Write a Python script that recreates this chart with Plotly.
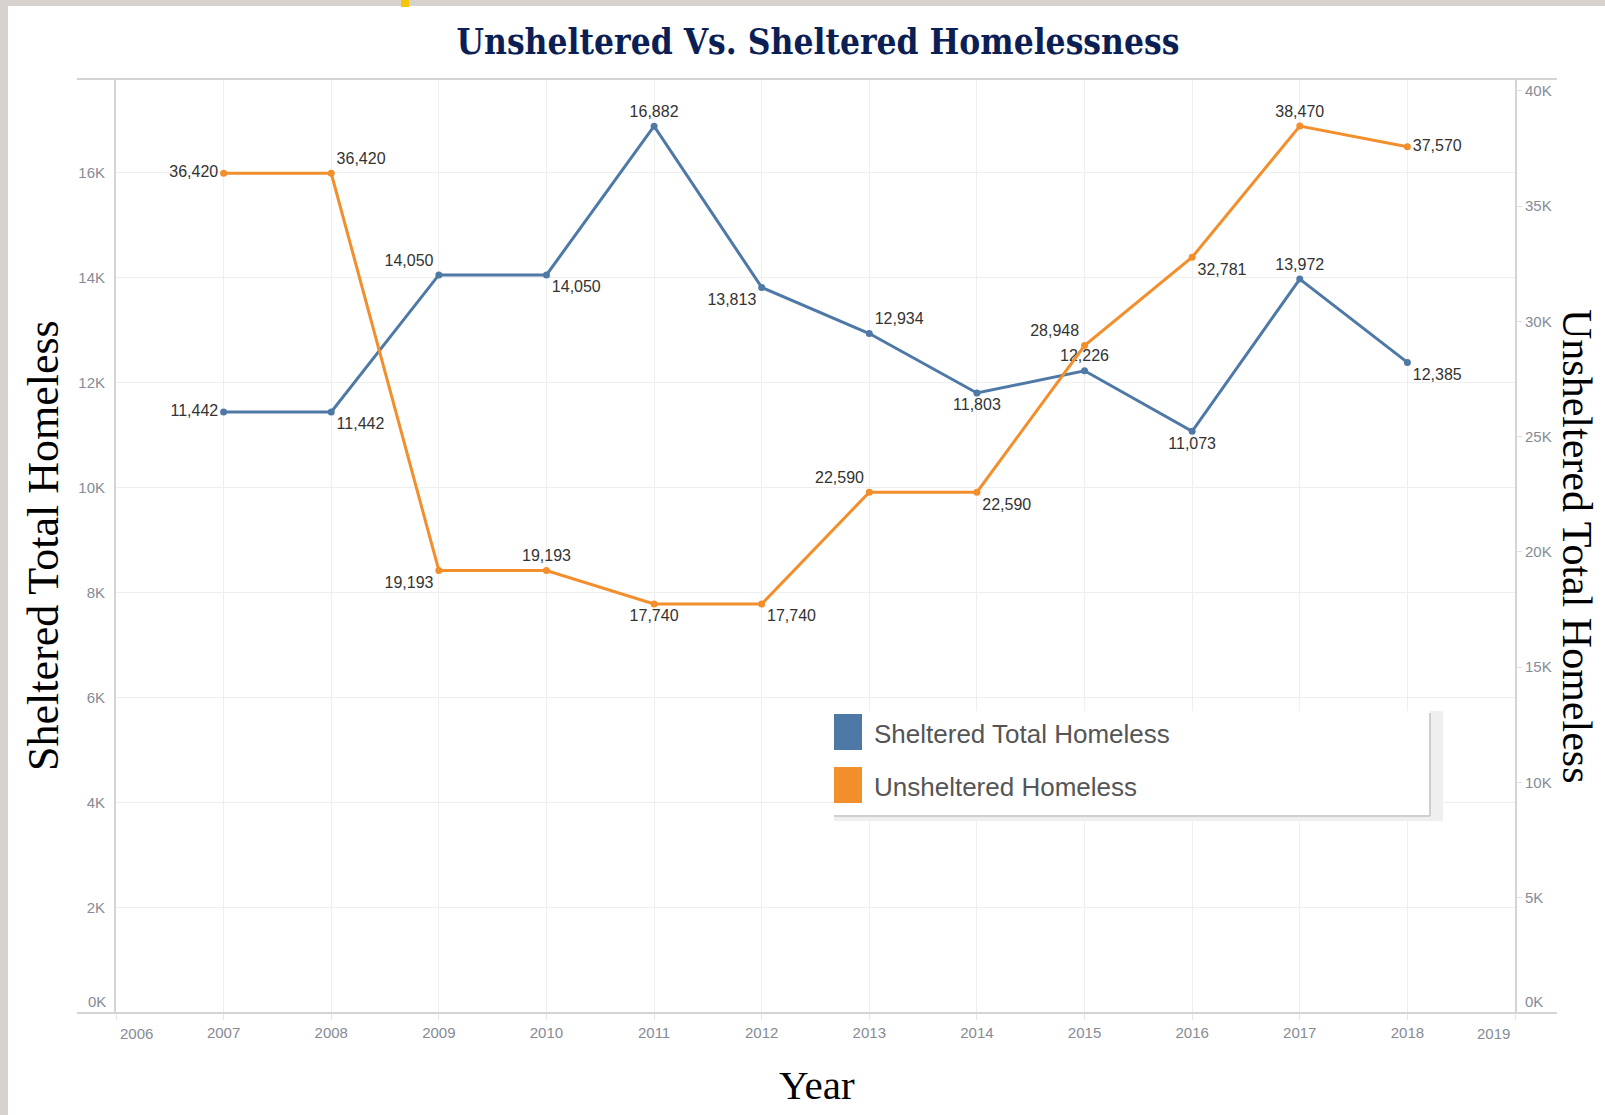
import plotly.graph_objects as go

# ---------------- data ----------------
years = [2007, 2008, 2009, 2010, 2011, 2012, 2013, 2014, 2015, 2016, 2017, 2018]
sheltered = [11442, 11442, 14050, 14050, 16882, 13813, 12934, 11803, 12226, 11073, 13972, 12385]
unsheltered = [36420, 36420, 19193, 19193, 17740, 17740, 22590, 22590, 28948, 32781, 38470, 37570]

sheltered_label_pos = ["middle left", "bottom right", "top left", "bottom right", "top center",
                       "bottom left", "top right", "bottom center", "top center", "bottom center",
                       "top center", "bottom right"]
unsheltered_label_pos = ["middle left", "top right", "bottom left", "top center", "bottom center",
                         "bottom right", "top left", "bottom right", "top left", "bottom right",
                         "top center", "middle right"]

x_ticks = list(range(2006, 2020))
left_ticks = [0, 2000, 4000, 6000, 8000, 10000, 12000, 14000, 16000]
left_tick_text = ["", "2K", "4K", "6K", "8K", "10K", "12K", "14K", "16K"]
right_ticks = [0, 5000, 10000, 15000, 20000, 25000, 30000, 35000, 40000]
right_tick_text = ["", "5K", "10K", "15K", "20K", "25K", "30K", "35K", "40K"]

title_text = "Unsheltered Vs. Sheltered Homelessness"
left_title = "Sheltered Total Homeless"
right_title = "Unsheltered Total Homeless"
x_title = "Year"
series_names = ["Sheltered Total Homeless", "Unsheltered Homeless"]

# ---------------- styling ----------------
W, H = 1605, 1115
ML, MR, MT, MB = 116, 90, 79, 102
PW, PH = W - ML - MR, H - MT - MB

BLUE = "#4e79a7"
ORANGE = "#f28e2b"
TICK_FONT = dict(family="Liberation Sans, Arial", size=15, color="#868b96")
LABEL_FONT = dict(family="Liberation Sans, Arial", size=16, color="#333333")
SERIF = "Liberation Serif, Times New Roman, serif"


def px(x):
    return (x - ML) / PW


def py(y):
    return 1 - (y - MT) / PH


def fmt(v):
    return f"{v:,}"


fig = go.Figure()

fig.add_trace(go.Scatter(
    x=years, y=sheltered, mode="lines+markers+text", name=series_names[0],
    line=dict(color=BLUE, width=3), marker=dict(color=BLUE, size=7),
    text=[fmt(v) for v in sheltered], textposition=sheltered_label_pos,
    textfont=LABEL_FONT, cliponaxis=False, yaxis="y", showlegend=False,
))
fig.add_trace(go.Scatter(
    x=years, y=unsheltered, mode="lines+markers+text", name=series_names[1],
    line=dict(color=ORANGE, width=3), marker=dict(color=ORANGE, size=7),
    text=[fmt(v) for v in unsheltered], textposition=unsheltered_label_pos,
    textfont=LABEL_FONT, cliponaxis=False, yaxis="y2", showlegend=False,
))

shapes = []
# page frame (gray strips + yellow mark)
FRAME = "#d8d2cf"
shapes.append(dict(type="rect", xref="paper", yref="paper", x0=px(0), x1=px(8), y0=py(0), y1=py(H),
                   fillcolor=FRAME, line_width=0, layer="above"))
shapes.append(dict(type="rect", xref="paper", yref="paper", x0=px(0), x1=px(W), y0=py(0), y1=py(6),
                   fillcolor=FRAME, line_width=0, layer="above"))
shapes.append(dict(type="rect", xref="paper", yref="paper", x0=px(401), x1=px(409), y0=py(0), y1=py(7),
                   fillcolor="#f7c600", line_width=0, layer="above"))
# top and bottom rules extending past the plot
AX = "#d4d4d4"
shapes.append(dict(type="line", xref="paper", yref="paper", x0=px(77), x1=px(1557), y0=1, y1=1,
                   line=dict(color=AX, width=2)))
shapes.append(dict(type="line", xref="paper", yref="paper", x0=px(77), x1=px(1557), y0=0, y1=0,
                   line=dict(color=AX, width=2)))

# legend box
LX0, LX1, LY0, LY1 = 834, 1430, 711, 816
shapes.append(dict(type="rect", xref="paper", yref="paper", x0=px(LX0), x1=px(LX1 + 13), y0=py(LY0),
                   y1=py(LY1 + 5), fillcolor="#efefef", line_width=0, layer="above"))
shapes.append(dict(type="rect", xref="paper", yref="paper", x0=px(LX0), x1=px(LX1), y0=py(LY0),
                   y1=py(LY1), fillcolor="#ffffff", line_width=0, layer="above"))
shapes.append(dict(type="line", xref="paper", yref="paper", x0=px(LX1), x1=px(LX1), y0=py(LY0 + 2),
                   y1=py(LY1), line=dict(color="#cfcfcf", width=2), layer="above"))
shapes.append(dict(type="line", xref="paper", yref="paper", x0=px(LX0), x1=px(LX1), y0=py(LY1),
                   y1=py(LY1), line=dict(color="#cfcfcf", width=2), layer="above"))
for i, col in enumerate([BLUE, ORANGE]):
    y0 = 714 + i * 53
    shapes.append(dict(type="rect", xref="paper", yref="paper", x0=px(834), x1=px(862), y0=py(y0),
                       y1=py(y0 + 36), fillcolor=col, line_width=0, layer="above"))

annotations = []
for i, name in enumerate(series_names):
    annotations.append(dict(text=name, xref="paper", yref="paper", x=px(872), y=py(734 + i * 53),
                            xanchor="left", yanchor="middle", showarrow=False,
                            font=dict(family="Liberation Sans, Arial", size=26, color="#555555")))

# axis titles
annotations.append(dict(text=left_title, xref="paper", yref="paper", x=px(43), y=0.5, textangle=-90,
                        xanchor="center", yanchor="middle", showarrow=False,
                        font=dict(family=SERIF, size=44, color="#000000")))
annotations.append(dict(text=right_title, xref="paper", yref="paper", x=px(1577), y=0.5, textangle=90,
                        xanchor="center", yanchor="middle", showarrow=False,
                        font=dict(family=SERIF, size=42, color="#000000")))
annotations.append(dict(text=x_title, xref="paper", yref="paper", x=px(817), y=py(1085),
                        xanchor="center", yanchor="middle", showarrow=False,
                        font=dict(family=SERIF, size=41, color="#000000")))

# edge tick labels shifted inward (Tableau style)
annotations.append(dict(text=str(x_ticks[0]), xref="x", yref="paper", x=x_ticks[0], y=py(1033),
                        xshift=20, xanchor="center", yanchor="middle", showarrow=False, font=TICK_FONT))
annotations.append(dict(text=str(x_ticks[-1]), xref="x", yref="paper", x=x_ticks[-1], y=py(1033),
                        xshift=-22, xanchor="center", yanchor="middle", showarrow=False, font=TICK_FONT))
annotations.append(dict(text="0K", xref="paper", yref="y", x=0, y=left_ticks[0], xshift=-8, yshift=12,
                        xanchor="right", yanchor="middle", showarrow=False, font=TICK_FONT))
annotations.append(dict(text="0K", xref="paper", yref="y2", x=1, y=right_ticks[0], xshift=8, yshift=12,
                        xanchor="left", yanchor="middle", showarrow=False, font=TICK_FONT))

fig.update_layout(
    width=W, height=H,
    margin=dict(l=ML, r=MR, t=MT, b=MB),
    paper_bgcolor="#ffffff", plot_bgcolor="#ffffff",
    title=dict(text=title_text, xref="container", yref="container", x=818 / W, y=1 - 42 / H,
               xanchor="center", yanchor="middle",
               font=dict(family="DejaVu Serif Condensed, DejaVu Serif", size=35, weight="bold",
                         color="#0c1f55")),
    xaxis=dict(range=[2006, 2019], tickvals=x_ticks,
               ticktext=[""] + [str(v) for v in x_ticks[1:-1]] + [""],
               showgrid=True, gridcolor="#efefef", gridwidth=1, zeroline=False,
               showline=False, ticks="outside", ticklen=6, tickcolor="#e6e6e6",
               tickfont=TICK_FONT, ticklabelstandoff=0),
    yaxis=dict(range=[0, 17780], tickvals=left_ticks, ticktext=left_tick_text,
               showgrid=True, gridcolor="#eeeeee", gridwidth=1, zeroline=False,
               showline=True, linecolor=AX, linewidth=2, ticks="", tickfont=TICK_FONT,
               ticklabelstandoff=6),
    yaxis2=dict(range=[0, 40510], tickvals=right_ticks, ticktext=right_tick_text, overlaying="y",
                side="right", showgrid=False, zeroline=False, showline=True, linecolor=AX, linewidth=2,
                ticks="outside", ticklen=5, tickcolor="#e0e0e0", tickfont=TICK_FONT),
    shapes=shapes, annotations=annotations,
    hovermode=False,
)

fig.write_html(
    "out.html",
    config={"displayModeBar": False, "staticPlot": True},
    post_script="document.body.style.margin='0';document.body.style.padding='0';"
                "document.body.style.overflow='hidden';",
)
